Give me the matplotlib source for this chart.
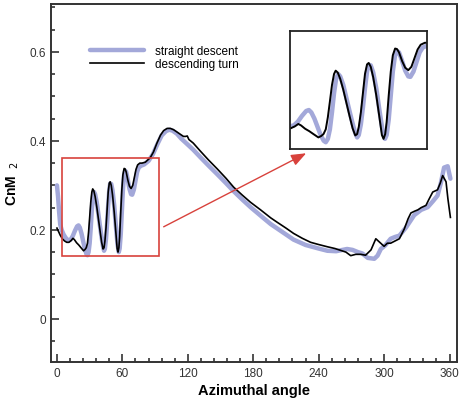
import matplotlib
matplotlib.use("Agg")
import matplotlib.pyplot as plt
from matplotlib.patches import Rectangle
from matplotlib.ticker import MultipleLocator

plt.rcParams['font.family'] = ['Liberation Sans', 'DejaVu Sans']

# straight descent (light blue, thick)
straight_x = [0, 1, 2, 3, 4.3, 6, 8, 10.4, 12.5, 14.5, 16.5, 18.5, 19.8, 21, 22.5, 24, 25.5, 27,
              28, 29, 30, 31, 32, 33, 34, 35, 36.5, 38, 39.5, 41, 42.3, 43.2, 44, 45, 46, 47,
              48, 48.8, 49.8, 51, 52.5, 54, 55.5, 56.7, 57.5, 58.5, 59.5, 60.5, 61.5, 62.5, 63.5,
              65, 66.5, 68, 69, 70.5, 72, 73.5, 75, 77, 80, 84, 88, 92, 96, 100, 103, 106, 110,
              114, 118, 125, 132, 140, 147, 155, 162, 170, 178, 186.7, 196, 205, 217, 228, 240,
              248, 256, 262, 266, 271, 276, 280, 285, 291, 294, 297, 301, 306, 310, 314, 320,
              327.6, 334, 340, 345, 349, 352, 355, 358.3, 360.8]
straight_y = [0.300, 0.275, 0.240, 0.212, 0.200, 0.190, 0.182, 0.176, 0.178, 0.186, 0.198, 0.208,
              0.210, 0.205, 0.192, 0.175, 0.158, 0.146, 0.143, 0.150, 0.170, 0.205, 0.245, 0.275,
              0.285, 0.280, 0.262, 0.235, 0.208, 0.182, 0.162, 0.153, 0.158, 0.180, 0.215, 0.255,
              0.290, 0.304, 0.303, 0.288, 0.255, 0.210, 0.168, 0.150, 0.158, 0.190, 0.240, 0.290,
              0.322, 0.333, 0.330, 0.312, 0.292, 0.280, 0.279, 0.290, 0.310, 0.330, 0.340, 0.344,
              0.347, 0.355, 0.370, 0.392, 0.412, 0.422, 0.425, 0.423, 0.416, 0.405, 0.396, 0.380,
              0.362, 0.342, 0.325, 0.305, 0.287, 0.268, 0.250, 0.232, 0.213, 0.198, 0.178, 0.166,
              0.158, 0.153, 0.152, 0.155, 0.157, 0.155, 0.150, 0.147, 0.137, 0.135, 0.142, 0.157,
              0.165, 0.180, 0.184, 0.187, 0.205, 0.233, 0.245, 0.251, 0.265, 0.277, 0.305, 0.340,
              0.343, 0.315]

# descending turn (black, thin)
turn_x = [0, 1.5, 3, 5, 7, 9, 11, 13, 14.7, 16, 18, 20, 22, 24.4, 25.8, 26.9, 28, 29, 30, 31,
          32, 32.8, 33.8, 35, 36.5, 38, 39.5, 41, 42.3, 43.2, 44, 45, 46, 47, 48, 48.8, 49.8,
          51, 52.5, 54, 55.2, 56, 56.8, 57.5, 58.5, 59.5, 60.5, 61.6, 62.5, 63.5, 65, 66.5, 68,
          69.5, 71, 72.5, 74, 76, 78, 81, 85.5, 88.5, 91.7, 95, 97.8, 101, 104, 107, 110, 113,
          116, 118, 119.5, 121, 125, 131.5, 139, 147, 155, 162, 170, 177.5, 186.7, 196, 202,
          210, 217, 225, 232.6, 240, 248, 255, 260, 265, 269.4, 274, 278.6, 283, 288, 292.4,
          296, 300, 303, 306, 310, 314, 318.5, 322, 324.6, 328, 331, 334, 338.4, 341, 344.6,
          349, 351.5, 353.7, 356.8, 358.5, 360.8]
turn_y = [0.204, 0.196, 0.188, 0.180, 0.175, 0.172, 0.172, 0.176, 0.181, 0.178, 0.171, 0.166,
          0.160, 0.153, 0.156, 0.160, 0.170, 0.195, 0.228, 0.262, 0.285, 0.292, 0.288, 0.275,
          0.252, 0.225, 0.198, 0.172, 0.157, 0.160, 0.175, 0.205, 0.245, 0.285, 0.305, 0.308,
          0.300, 0.278, 0.240, 0.195, 0.158, 0.150, 0.160, 0.185, 0.240, 0.290, 0.324, 0.338,
          0.337, 0.330, 0.312, 0.298, 0.293, 0.300, 0.318, 0.336, 0.346, 0.350, 0.350, 0.352,
          0.362, 0.375, 0.395, 0.413, 0.423, 0.428, 0.428, 0.425, 0.420, 0.415, 0.410, 0.410,
          0.411, 0.403, 0.395, 0.377, 0.357, 0.337, 0.316, 0.296, 0.278, 0.262, 0.245, 0.227,
          0.217, 0.204, 0.192, 0.181, 0.172, 0.167, 0.162, 0.158, 0.154, 0.150, 0.142, 0.145,
          0.145, 0.143, 0.155, 0.180, 0.172, 0.163, 0.170, 0.170, 0.175, 0.180, 0.202, 0.225,
          0.238, 0.242, 0.245, 0.250, 0.255, 0.268, 0.285, 0.290, 0.305, 0.322, 0.308, 0.270,
          0.228]

zoom_box = (4.3, 0.142, 94, 0.361)      # region marked in main plot
inset_lims = (10.7, 77, 0.129, 0.375)   # what the inset actually shows

blue = '#a3a8d9'
red = '#d8423c'

fig = plt.figure(figsize=(4.59, 4.02), dpi=100)
ax = fig.add_axes([0.111, 0.097, 0.885, 0.891])

ax.plot(straight_x, straight_y, color=blue, lw=3.2, label='straight descent',
        solid_capstyle='round', solid_joinstyle='round')
ax.plot(turn_x, turn_y, color='black', lw=1.2, label='descending turn')

ax.set_xlim(-5.5, 367)
ax.set_ylim(-0.097, 0.708)
ax.xaxis.set_major_locator(MultipleLocator(60))
ax.xaxis.set_minor_locator(MultipleLocator(12))
ax.yaxis.set_minor_locator(MultipleLocator(0.05))
ax.set_yticks([0, 0.2, 0.4, 0.6])
ax.set_yticklabels(['0', '0.2', '0.4', '0.6'])
ax.tick_params(which='both', direction='in', colors='#333333', labelsize=8.5, width=1.2)
ax.tick_params(which='major', length=6)
ax.tick_params(which='minor', length=3)
for s in ax.spines.values():
    s.set_color('#333333')
    s.set_linewidth(1.4)

ax.set_xlabel('Azimuthal angle', fontsize=10.5, fontweight='bold', labelpad=3)
ax.set_ylabel('CnM  $_2$', fontsize=10, fontweight='bold', labelpad=6)

ax.legend(loc='upper left', bbox_to_anchor=(0.096, 0.886), frameon=False, fontsize=8.5,
          handlelength=4.6, handletextpad=0.9, labelspacing=0.12, borderpad=0, borderaxespad=0)

x0, y0, x1, y1 = zoom_box
ax.add_patch(Rectangle((x0, y0), x1 - x0, y1 - y0, fill=False, edgecolor=red, lw=1.2, zorder=5))
ax.annotate('', xy=(230.8, 0.375), xytext=(95.6, 0.204),
            arrowprops=dict(arrowstyle='-|>,head_length=0.9,head_width=0.35', color=red, lw=1.0))

ins = fig.add_axes([0.632, 0.627, 0.298, 0.294])
ins.plot(straight_x, straight_y, color=blue, lw=3.2, solid_joinstyle='round')
ins.plot(turn_x, turn_y, color='black', lw=1.4)
ins.set_xlim(inset_lims[0], inset_lims[1])
ins.set_ylim(inset_lims[2], inset_lims[3])
ins.set_xticks([])
ins.set_yticks([])
for s in ins.spines.values():
    s.set_color('#222222')
    s.set_linewidth(1.3)

fig.savefig('out.png', dpi=100)
